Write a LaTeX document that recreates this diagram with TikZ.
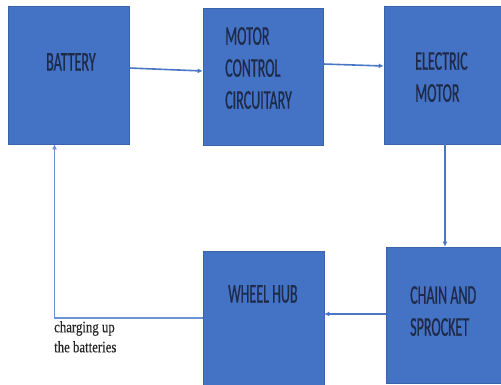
\documentclass[tikz,border=0pt]{standalone}
\usepackage{fontspec}
\setmainfont{Carlito}
\newfontfamily\boxfont[FakeStretch=0.52,FakeBold=0.6]{Carlito}
\newfontfamily\capfont[FakeStretch=0.8,FakeBold=0.4]{Liberation Serif}
\usetikzlibrary{arrows.meta}
\definecolor{boxblue}{HTML}{4472C4}
\definecolor{edgeblue}{HTML}{3B63AC}
\definecolor{txt}{HTML}{1E2A48}
\definecolor{linkblue}{HTML}{4A76C6}
\tikzset{
  block/.style={fill=boxblue, draw=edgeblue, line width=0.6pt, inner sep=0pt, rectangle},
  lbl/.style={text=txt, font=\boxfont\fontsize{27}{32}\selectfont, align=left, inner sep=0pt, anchor=north west},
  link/.style={draw=linkblue, line width=1.6pt, -{Latex[length=5pt,width=5pt]}},
  back/.style={draw=linkblue!80, line width=1.3pt, -{Latex[length=5pt,width=5pt]}},
}
\begin{document}
\begin{tikzpicture}[x=1pt,y=-1pt]
\useasboundingbox (0,0) rectangle (501,385);
\fill[white] (0,0) rectangle (501,385);
% blocks
\node[block, minimum width=121pt, minimum height=138pt] (bat) at (68.5,75) {};
\node[block, minimum width=120pt, minimum height=137pt] (mcc) at (263,76.5) {};
\node[block, minimum width=119pt, minimum height=138pt] (em) at (443.5,75) {};
\node[block, minimum width=117pt, minimum height=136pt] (cs) at (444.5,315) {};
\node[block, minimum width=121pt, minimum height=139pt] (wh) at (263.5,320.5) {};
% labels
\node[lbl] (t1) at (46,53) {BATTERY};
\node[lbl] (t2) at (225,27) {MOTOR\\CONTROL\\CIRCUITARY};
\node[lbl] (t3) at (415,52) {ELECTRIC\\MOTOR};
\node[lbl] (t4) at (228,285) {WHEEL HUB};
\node[lbl] (t5) at (410,286) {CHAIN AND\\SPROCKET};
% connectors
\draw[link] ([yshift=7pt]bat.east) -- ([yshift=5.5pt]mcc.west);
\draw[link] ([yshift=12.5pt]mcc.east) -- ([yshift=9pt]em.west);
\coordinate (emout) at ([xshift=1.5pt]em.south);
\draw[link] (emout) -- (emout |- cs.north);
\draw[link] ([yshift=1pt]cs.west) -- ([yshift=6.5pt]wh.east);
\coordinate (corner) at (54.5,318);
\draw[back] ([yshift=2.5pt]wh.west) -- (corner) -- (corner |- bat.south);
% caption
\node[text=black!85, font=\capfont\fontsize{16}{20}\selectfont, align=left, anchor=north west, inner sep=0pt] (cap) at (54,321) {charging up\\the batteries};
\end{tikzpicture}
\end{document}
